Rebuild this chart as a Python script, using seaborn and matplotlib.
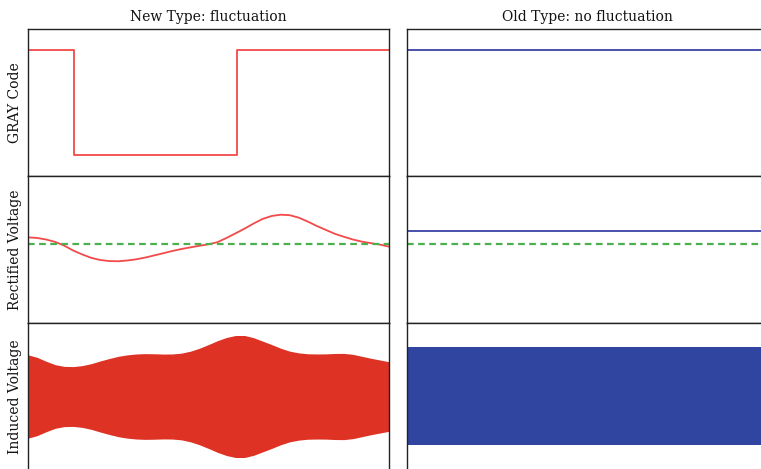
import numpy as np
import pandas as pd
import matplotlib
matplotlib.use("Agg")
import matplotlib.pyplot as plt
import seaborn as sns

sns.set_style("white")
plt.rcParams["font.family"] = ["DejaVu Serif"]

# Column titles and row labels
col_titles = ["New Type: fluctuation", "Old Type: no fluctuation"]
row_labels = ["GRAY Code", "Rectified Voltage", "Induced Voltage"]

# GRAY code levels (step signal, held after each time point)
gray_t = [0.0, 0.127, 0.578, 1.0]
gray_new = [1, 0, 1, 1]
gray_old = [1, 1, 1, 1]

# Rectified voltage of the new type, plus reference level and old type level
rect_t = [0.000, 0.025, 0.050, 0.075, 0.100, 0.125, 0.150, 0.175, 0.200, 0.225,
          0.250, 0.275, 0.300, 0.325, 0.350, 0.375, 0.400, 0.425, 0.450, 0.475,
          0.500, 0.525, 0.550, 0.575, 0.600, 0.625, 0.650, 0.675, 0.700, 0.725,
          0.750, 0.775, 0.800, 0.825, 0.850, 0.875, 0.900, 0.925, 0.950, 0.975,
          1.000]
rect_new = [0.874, 0.868, 0.852, 0.828, 0.790, 0.740, 0.700, 0.665, 0.643, 0.632,
            0.630, 0.638, 0.650, 0.668, 0.690, 0.712, 0.735, 0.755, 0.772, 0.788,
            0.803, 0.825, 0.868, 0.915, 0.963, 1.015, 1.062, 1.092, 1.105, 1.100,
            1.075, 1.035, 0.990, 0.950, 0.910, 0.880, 0.852, 0.830, 0.815, 0.800,
            0.779]
rect_ref = 0.81
rect_old = 0.94

# Induced voltage envelope (peak amplitude) for both types
env_t = [0.000, 0.025, 0.050, 0.075, 0.100, 0.125, 0.150, 0.175, 0.200, 0.225,
         0.250, 0.275, 0.300, 0.325, 0.350, 0.375, 0.400, 0.425, 0.450, 0.475,
         0.500, 0.525, 0.550, 0.575, 0.600, 0.625, 0.650, 0.675, 0.700, 0.725,
         0.750, 0.775, 0.800, 0.825, 0.850, 0.875, 0.900, 0.925, 0.950, 0.975,
         1.000]
env_new = [0.85, 0.80, 0.72, 0.65, 0.615, 0.61, 0.63, 0.67, 0.725, 0.775,
           0.82, 0.85, 0.868, 0.875, 0.872, 0.866, 0.868, 0.885, 0.925, 0.985,
           1.06, 1.14, 1.205, 1.245, 1.245, 1.20, 1.13, 1.06, 0.985, 0.925,
           0.89, 0.872, 0.868, 0.870, 0.878, 0.88, 0.86, 0.82, 0.78, 0.745,
           0.71]
env_old = [1.0] * len(env_t)

RED_LINE = "#f24a4a"
RED_FILL = "#dd3224"
BLUE_LINE = "#3b43a6"
BLUE_FILL = "#2f45a0"
GREEN = "#4caf50"

W, H = 761, 469
fig = plt.figure(figsize=(W / 100, H / 100), dpi=100)

ax_w = 361 / W
ax_h = 147 / H
lefts = [28 / W, 407 / W]
tops = [29, 176, 323]

axes = [[None, None] for _ in range(3)]
for r in range(3):
    for c in range(2):
        bottom = (H - tops[r] - 147) / H
        axes[r][c] = fig.add_axes([lefts[c], bottom, ax_w, ax_h])

gray_df = pd.DataFrame({"t": gray_t, "new": gray_new, "old": gray_old})
rect_df = pd.DataFrame({"t": rect_t, "v": rect_new})
env_df = pd.DataFrame({"t": env_t, "new": env_new, "old": env_old})

# Row 1: GRAY code
sns.lineplot(data=gray_df, x="t", y="new", ax=axes[0][0], color=RED_LINE,
             drawstyle="steps-post", lw=1.3, estimator=None, sort=False)
sns.lineplot(data=gray_df, x="t", y="old", ax=axes[0][1], color=BLUE_LINE,
             drawstyle="steps-post", lw=1.3, estimator=None, sort=False)

# Row 2: rectified voltage
sns.lineplot(data=rect_df, x="t", y="v", ax=axes[1][0], color=RED_LINE,
             lw=1.3, estimator=None, sort=False)
for c in range(2):
    axes[1][c].axhline(rect_ref, color=GREEN, ls="--", lw=1.6, dashes=(3, 2))
axes[1][1].axhline(rect_old, color=BLUE_LINE, lw=1.3)

# Row 3: induced voltage (dense carrier drawn as its filled envelope)
axes[2][0].fill_between(env_df["t"], -env_df["new"], env_df["new"],
                        color=RED_FILL, lw=0)
axes[2][1].fill_between(env_df["t"], -env_df["old"], env_df["old"],
                        color=BLUE_FILL, lw=0)

ylims = [(-0.2, 1.2), (0.0, 1.5), (-1.5, 1.5)]
for r in range(3):
    for c in range(2):
        ax = axes[r][c]
        ax.set_xlim(0, 1)
        ax.set_ylim(*ylims[r])
        ax.set_xticks([])
        ax.set_yticks([])
        ax.set_xlabel("")
        ax.set_ylabel(row_labels[r] if c == 0 else "", fontsize=10,
                      color="#111111")
        for s in ax.spines.values():
            s.set_color("#222222")
            s.set_linewidth(1.0)
for c in range(2):
    axes[0][c].set_title(col_titles[c], fontsize=10, color="#111111")

fig.savefig("out.png", dpi=100)
